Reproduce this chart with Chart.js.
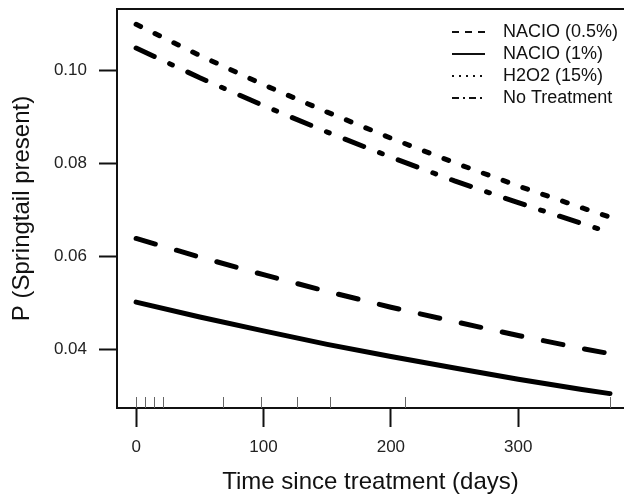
<!DOCTYPE html>
<html>
<head>
<meta charset="utf-8">
<script src="https://cdn.jsdelivr.net/npm/chart.js@4.4.1/dist/chart.umd.min.js"></script>
<style>
  html, body { margin: 0; padding: 0; background: #fff; }
  #wrap { width: 624px; height: 496px; }
</style>
</head>
<body>
<div id="wrap"><canvas id="chart1" width="624" height="496"></canvas></div>
<script>
// donnees
var days = [0, 50, 100, 150, 200, 250, 300, 350, 372];
var nacio05 = [0.0639, 0.0599, 0.0561, 0.0525, 0.0491, 0.0460, 0.0430, 0.0402, 0.0391];
var nacio1 = [0.0502, 0.0470, 0.0440, 0.0411, 0.0385, 0.0360, 0.0336, 0.0314, 0.0305];
var h2o2 = [0.1100, 0.1033, 0.0970, 0.0911, 0.0855, 0.0802, 0.0752, 0.0705, 0.0685];
var noTreatment = [0.1049, 0.0985, 0.0925, 0.0868, 0.0814, 0.0763, 0.0716, 0.0671, 0.0652];

var seriesLabels = ["NACIO (0.5%)", "NACIO (1%)", "H2O2 (15%)", "No Treatment"];
var xTicks = [0, 100, 200, 300];
var yTicks = [0.04, 0.06, 0.08, 0.10];
// jours observes (rug en bas)
var rugDays = [0, 7, 14, 21, 68, 98, 126, 152, 211, 372];

function pts(vals) {
    var out = [];
    for (var i = 0; i < days.length; i++) {
        out.push({ x: days[i], y: vals[i] });
    }
    return out;
}

var dashes = [[20, 22], [], [5, 16], [20, 17, 3, 17]];
var legendDashes = [[7, 6], [], [2, 5], [7, 4, 2, 4]];

function makeSet(i, vals) {
    return {
        label: seriesLabels[i],
        data: pts(vals),
        borderColor: "#000",
        borderWidth: 5,
        borderDash: dashes[i],
        borderCapStyle: "round",
        pointRadius: 0,
        tension: 0,
        fill: false
    };
}

// bordure du haut + rug + legende
var extras = {
    id: "extras",
    afterDraw: function(chart) {
        var ctx = chart.ctx;
        var area = chart.chartArea;
        var xs = chart.scales.x;
        ctx.save();
        ctx.strokeStyle = "#111";
        ctx.lineWidth = 2;
        ctx.beginPath();
        ctx.moveTo(area.left - 1, area.top);
        ctx.lineTo(area.right, area.top);
        ctx.stroke();

        ctx.strokeStyle = "#666";
        ctx.lineWidth = 1;
        for (var i = 0; i < rugDays.length; i++) {
            var px = Math.round(xs.getPixelForValue(rugDays[i])) + 0.5;
            ctx.beginPath();
            ctx.moveTo(px, area.bottom);
            ctx.lineTo(px, area.bottom - 11);
            ctx.stroke();
        }

        ctx.font = "18px 'Liberation Sans', Arial, sans-serif";
        ctx.fillStyle = "#111";
        ctx.textBaseline = "middle";
        ctx.textAlign = "left";
        var rows = [32, 54, 76, 98];
        for (var j = 0; j < seriesLabels.length; j++) {
            ctx.strokeStyle = "#111";
            ctx.lineWidth = 2;
            ctx.setLineDash(legendDashes[j]);
            ctx.beginPath();
            ctx.moveTo(452, rows[j]);
            ctx.lineTo(485, rows[j]);
            ctx.stroke();
            ctx.setLineDash([]);
            ctx.fillText(seriesLabels[j], 503, rows[j]);
        }
        ctx.restore();
    }
};

var ctx = document.getElementById("chart1").getContext("2d");
var myChart = new Chart(ctx, {
    type: "line",
    data: {
        datasets: [
            makeSet(0, nacio05),
            makeSet(1, nacio1),
            makeSet(2, h2o2),
            makeSet(3, noTreatment)
        ]
    },
    options: {
        responsive: false,
        animation: false,
        layout: { padding: { top: 9, right: 0, left: 0, bottom: 0 } },
        plugins: { legend: { display: false }, tooltip: { enabled: false } },
        scales: {
            x: {
                type: "linear",
                min: -15,
                max: 383,
                afterFit: function(s) { s.height = 88; s.paddingLeft = 0; s.paddingRight = 0; },
                afterBuildTicks: function(s) {
                    s.ticks = xTicks.map(function(v) { return { value: v }; });
                },
                border: { display: true, color: "#111", width: 2 },
                grid: { drawOnChartArea: false, tickLength: 19, tickWidth: 2, tickColor: "#111" },
                ticks: {
                    color: "#222",
                    padding: 10,
                    maxRotation: 0,
                    font: { family: "'Liberation Sans', Arial, sans-serif", size: 17 }
                },
                title: {
                    display: true,
                    text: "Time since treatment (days)",
                    color: "#111",
                    font: { family: "'Liberation Sans', Arial, sans-serif", size: 24, lineHeight: 1 },
                    padding: { top: 0, bottom: 2 }
                }
            },
            y: {
                type: "linear",
                min: 0.0274,
                max: 0.1133,
                afterFit: function(s) { s.width = 117; s.paddingTop = 0; s.paddingBottom = 0; },
                afterBuildTicks: function(s) {
                    s.ticks = yTicks.map(function(v) { return { value: v }; });
                },
                border: { display: true, color: "#111", width: 2 },
                grid: { drawOnChartArea: false, tickLength: 18, tickWidth: 2, tickColor: "#111" },
                ticks: {
                    color: "#222",
                    padding: 12,
                    font: { family: "'Liberation Sans', Arial, sans-serif", size: 17 },
                    callback: function(v) { return v.toFixed(2); }
                },
                title: {
                    display: true,
                    text: "P (Springtail present)",
                    color: "#111",
                    font: { family: "'Liberation Sans', Arial, sans-serif", size: 24, lineHeight: 1 },
                    padding: { top: 10, bottom: 0 }
                }
            }
        }
    },
    plugins: [extras]
});
</script>
</body>
</html>
